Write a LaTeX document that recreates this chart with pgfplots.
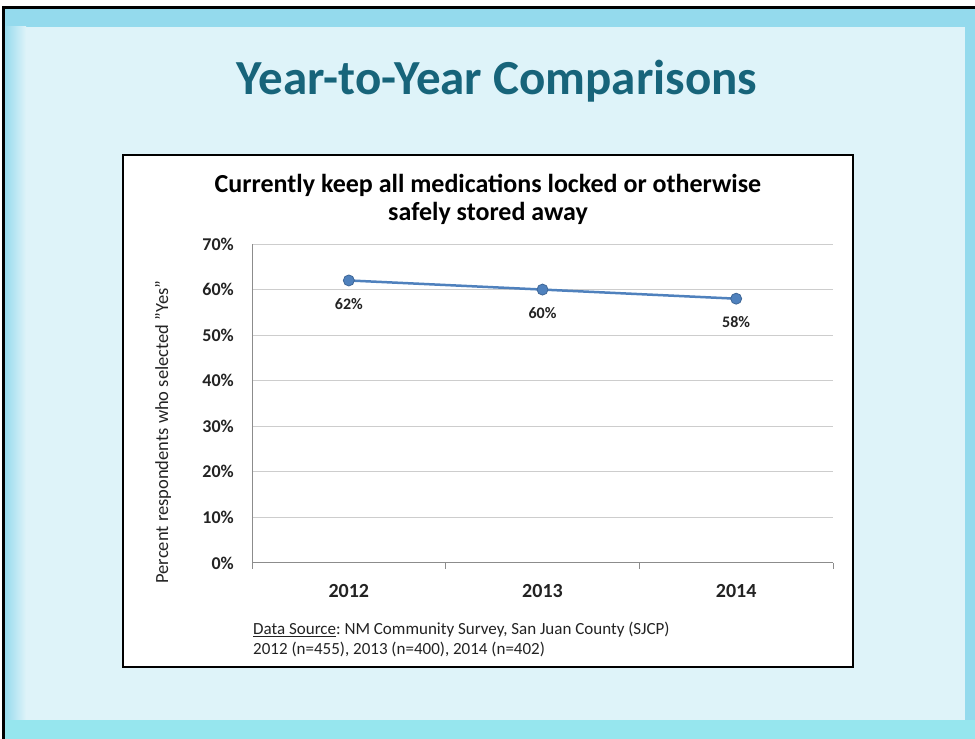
\documentclass[border=0pt]{standalone}
\usepackage{fontspec}
\setmainfont{Carlito}
\usepackage{pgfplots}
\pgfplotsset{compat=1.18}

\definecolor{bandblue}{RGB}{148,218,237}
\definecolor{paleblue}{RGB}{222,243,249}
\definecolor{bottomcyan}{RGB}{150,230,238}
\definecolor{titleteal}{RGB}{23,100,122}
\definecolor{seriesblue}{RGB}{79,129,189}
\definecolor{gridgray}{RGB}{205,205,205}
\definecolor{axisgray}{RGB}{140,140,140}
\definecolor{textdark}{RGB}{35,35,35}

\begin{document}
\begin{tikzpicture}
\useasboundingbox (0pt,0pt) rectangle (975pt,739pt);
% slide background
\fill[white] (0pt,0pt) rectangle (975pt,739pt);
\fill[bandblue] (4pt,0pt) rectangle (975pt,731pt);
\shade[left color=bandblue, right color=paleblue] (4pt,19pt) rectangle (26pt,712pt);
\fill[paleblue] (26pt,19pt) rectangle (965pt,712pt);
\fill[bottomcyan] (4pt,0pt) rectangle (975pt,19pt);
\draw[black, line width=3pt] (3pt,0pt) -- (3pt,731pt) -- (975pt,731pt);

% slide title
\node[anchor=base, font=\fontsize{49}{58}\selectfont\bfseries, text=titleteal, inner sep=0pt]
  at (497pt,644pt) {Year-to-Year Comparisons};

% chart frame
\draw[black, line width=2pt, fill=white] (123pt,72pt) rectangle (853pt,584pt);

% chart title
\node[anchor=base, font=\fontsize{26}{31}\selectfont\bfseries, inner sep=0pt]
  at (488pt,546pt) {Currently keep all medications locked or otherwise};
\node[anchor=base, font=\fontsize{26}{31}\selectfont\bfseries, inner sep=0pt]
  at (488pt,518pt) {safely stored away};

% vertical axis title
\node[rotate=90, font=\fontsize{18.5}{22}\selectfont, text=textdark, inner sep=0pt]
  at (163pt,307pt) {Percent respondents who selected "Yes"};

\begin{axis}[
  at={(252pt,176pt)}, anchor=south west,
  width=581pt, height=319pt, scale only axis,
  xmin=-0.5, xmax=2.5, ymin=0, ymax=70,
  xtick={0,1,2}, xticklabels={2012,2013,2014},
  ytick={0,10,...,70},
  yticklabel={\pgfmathprintnumber{\tick}\%},
  /pgf/number format/assume math mode=true,
  axis x line*=bottom, axis y line*=left,
  axis line style={axisgray, line width=1pt, -},
  ymajorgrids, major grid style={gridgray, line width=1pt},
  major tick length=0pt,
  minor xtick={-0.5,0.5,1.5,2.5},
  minor x tick style={axisgray, line width=1pt},
  minor tick length=6pt, tick align=outside,
  xticklabel style={font=\fontsize{20}{24}\selectfont\bfseries, text=textdark, anchor=base, yshift=-35pt, inner sep=0pt},
  yticklabel style={font=\fontsize{18}{22}\selectfont\bfseries, text=textdark, anchor=east, xshift=-18pt, inner sep=0pt},
  clip=false,
]
\addplot[seriesblue, line width=2.5pt, mark=*, mark size=5.5pt,
  mark options={fill=seriesblue, draw=seriesblue!80!black, line width=0.8pt},
  nodes near coords={\pgfmathprintnumber{\pgfplotspointmeta}\%},
  every node near coord/.append style={font=\fontsize{16}{19}\selectfont\bfseries, text=textdark, anchor=base, yshift=-29pt, inner sep=0pt}]
  coordinates {(0,62) (1,60) (2,58)};
\end{axis}

% source note
\node[anchor=base west, font=\fontsize{17}{20}\selectfont, text=textdark, inner sep=0pt]
  at (253pt,104pt) {\underline{Data Source}:~NM Community Survey, San Juan County (SJCP)};
\node[anchor=base west, font=\fontsize{17}{20}\selectfont, text=textdark, inner sep=0pt]
  at (253pt,84pt) {2012 (n=455), 2013 (n=400), 2014 (n=402)};
\end{tikzpicture}
\end{document}
